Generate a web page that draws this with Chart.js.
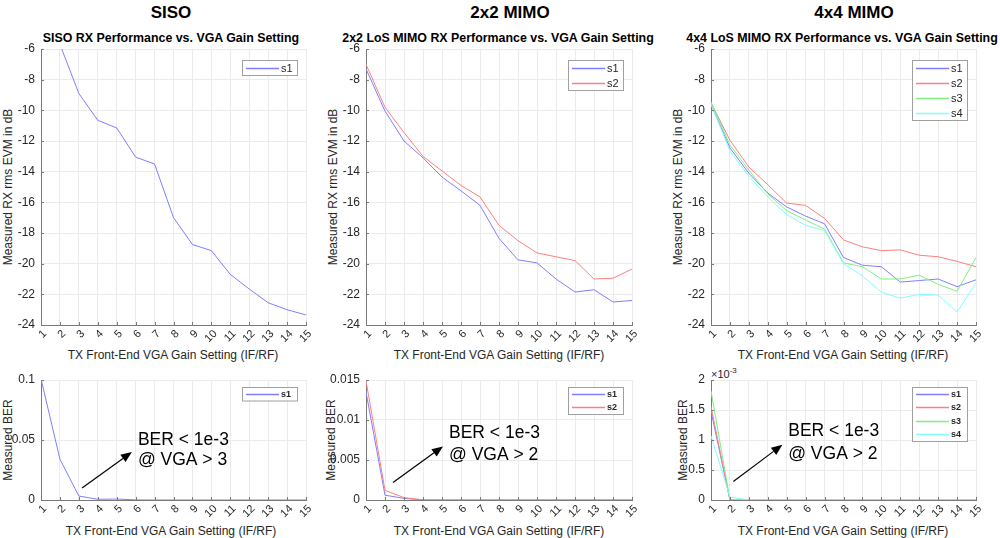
<!DOCTYPE html>
<html>
<head>
<meta charset="utf-8">
<script src="https://cdn.jsdelivr.net/npm/chart.js@4.4.0/dist/chart.umd.min.js"></script>
<style>
  body { margin: 0; background: #fff; font-family: "Liberation Sans", Arial, sans-serif; }
  #fig { position: relative; width: 1000px; height: 538px; overflow: hidden; }
  .box { position: absolute; }
  .t { position: absolute; white-space: nowrap; transform: translate(-50%, -50%); color: #000; }
  .sup { font-weight: bold; font-size: 17px; }
  .sub { font-weight: bold; font-size: 12.4px; }
  .xl { font-size: 12px; color: #262626; }
  .yl { font-size: 12px; color: #262626; transform: translate(-50%, -50%) rotate(-90deg); }
  .exp { position: absolute; font-size: 11px; color: #262626; white-space: nowrap; }
  .exp sup { font-size: 8px; }
</style>
</head>
<body>
<div id="fig">
  <div class="t sup" style="left:171px;top:13px">SISO</div>
  <div class="t sup" style="left:510px;top:13px">2x2 MIMO</div>
  <div class="t sup" style="left:854px;top:13px">4x4 MIMO</div>

  <div class="t sub" style="left:171px;top:38px">SISO RX Performance vs. VGA Gain Setting</div>
  <div class="t sub" style="left:498px;top:38px">2x2 LoS MIMO RX Performance vs. VGA Gain Setting</div>
  <div class="t sub" style="left:842px;top:38px">4x4 LoS MIMO RX Performance vs. VGA Gain Setting</div>

  <div class="t yl" style="left:8px;top:187px">Measured RX rms EVM in dB</div>
  <div class="t yl" style="left:333px;top:187px">Measured RX rms EVM in dB</div>
  <div class="t yl" style="left:678px;top:187px">Measured RX rms EVM in dB</div>
  <div class="t yl" style="left:8px;top:440px">Measured BER</div>
  <div class="t yl" style="left:331px;top:440px">Measured BER</div>
  <div class="t yl" style="left:683px;top:440px">Measured BER</div>

  <div class="t xl" style="left:173px;top:355px">TX Front-End VGA Gain Setting (IF/RF)</div>
  <div class="t xl" style="left:499px;top:355px">TX Front-End VGA Gain Setting (IF/RF)</div>
  <div class="t xl" style="left:843px;top:355px">TX Front-End VGA Gain Setting (IF/RF)</div>
  <div class="t xl" style="left:171px;top:531px">TX Front-End VGA Gain Setting (IF/RF)</div>
  <div class="t xl" style="left:499px;top:531px">TX Front-End VGA Gain Setting (IF/RF)</div>
  <div class="t xl" style="left:843px;top:531px">TX Front-End VGA Gain Setting (IF/RF)</div>

  <div class="exp" style="left:711px;top:366px">&times;10<sup>-3</sup></div>

  <div class="box" id="b1"><canvas id="c1"></canvas></div>
  <div class="box" id="b2"><canvas id="c2"></canvas></div>
  <div class="box" id="b3"><canvas id="c3"></canvas></div>
  <div class="box" id="b4"><canvas id="c4"></canvas></div>
  <div class="box" id="b5"><canvas id="c5"></canvas></div>
  <div class="box" id="b6"><canvas id="c6"></canvas></div>
</div>

<script>
// x axis: TX VGA gain setting
const vga = [1, 2, 3, 4, 5, 6, 7, 8, 9, 10, 11, 12, 13, 14, 15];

// RX rms EVM in dB
const sisoEvm   = [-2.5, -5.7, -8.9, -10.65, -11.15, -13.05, -13.5, -17.0, -18.75, -19.15, -20.7, -21.65, -22.55, -23.0, -23.35];
const mimo2EvmS1 = [-7.3, -10.05, -12.0, -13.1, -14.35, -15.25, -16.2, -18.35, -19.75, -19.95, -21.0, -21.85, -21.7, -22.5, -22.4];
const mimo2EvmS2 = [-7.0, -9.8, -11.45, -13.0, -13.95, -14.9, -15.65, -17.5, -18.5, -19.3, -19.55, -19.8, -21.0, -20.95, -20.35];
const mimo4EvmS1 = [-9.6, -12.45, -14.1, -15.4, -16.3, -16.9, -17.4, -19.6, -20.1, -20.2, -21.2, -21.1, -21.0, -21.5, -21.05];
const mimo4EvmS2 = [-9.5, -11.95, -13.7, -14.85, -16.05, -16.2, -17.05, -18.45, -18.9, -19.15, -19.1, -19.45, -19.55, -19.85, -20.2];
const mimo4EvmS3 = [-9.45, -12.25, -13.9, -15.45, -16.55, -17.15, -17.75, -19.95, -20.2, -21.0, -21.0, -20.75, -21.35, -21.8, -19.6];
const mimo4EvmS4 = [-9.6, -12.65, -14.3, -15.65, -16.8, -17.5, -17.85, -20.0, -20.8, -21.85, -22.25, -22.0, -22.05, -23.15, -21.25];

// measured BER
const sisoBer    = [0.101, 0.034, 0.0033, 0.0006, 0.0008, 0.0001, 0, 0, 0, 0, 0, 0, 0, 0, 0];
const mimo2BerS1 = [0.0135, 0.0006, 0.0002, 0, 0, 0, 0, 0, 0, 0, 0, 0, 0, 0, 0];
const mimo2BerS2 = [0.0149, 0.0012, 0.0003, 0.00003, 0, 0, 0, 0, 0, 0, 0, 0, 0, 0, 0];
const mimo4BerS1 = [0.00148, 0, 0, 0, 0, 0, 0, 0, 0, 0, 0, 0, 0, 0, 0];
const mimo4BerS2 = [0.00156, 0, 0, 0, 0, 0, 0, 0, 0, 0, 0, 0, 0, 0, 0];
const mimo4BerS3 = [0.00182, 0.00001, 0, 0, 0, 0, 0, 0, 0, 0, 0, 0, 0, 0, 0];
const mimo4BerS4 = [0.00107, 0.00005, 0, 0, 0, 0, 0, 0, 0, 0, 0, 0, 0, 0, 0];

const colors = ['#7f7fff', '#ff7f7f', '#7fef7f', '#7fffff'];
const axisGray = '#7a7a7a';
const FONT = '"Liberation Sans", Arial, sans-serif';

// small inward tick marks like matlab, plus the 45deg x tick labels
const sideTicks = {
  id: 'sideTicks',
  afterDraw(chart) {
    const { ctx, chartArea: a, scales: { x, y } } = chart;
    ctx.save();
    ctx.strokeStyle = axisGray;
    ctx.lineWidth = 1;
    ctx.beginPath();
    x.ticks.forEach(t => {
      const px = Math.round(x.getPixelForValue(t.value)) + 0.5;
      ctx.moveTo(px, a.bottom); ctx.lineTo(px, a.bottom - 3);
    });
    y.ticks.forEach(t => {
      const py = Math.round(y.getPixelForValue(t.value)) + 0.5;
      ctx.moveTo(a.left, py); ctx.lineTo(a.left + 3, py);
    });
    ctx.stroke();

    ctx.fillStyle = '#262626';
    ctx.font = '11px ' + FONT;
    ctx.textAlign = 'right';
    ctx.textBaseline = 'middle';
    x.ticks.forEach(t => {
      ctx.save();
      ctx.translate(x.getPixelForValue(t.value) + 4, a.bottom + 7);
      ctx.rotate(-Math.PI / 4);
      ctx.fillText(String(t.value), 0, 0);
      ctx.restore();
    });
    ctx.restore();
  }
};

// legend box inside the axes, top right
const boxLegend = {
  id: 'boxLegend',
  afterDraw(chart, args, opts) {
    const { ctx, chartArea: a } = chart;
    const sets = chart.data.datasets;
    const w = 55, h = opts.row * sets.length;
    const bx = Math.round(a.right - 9 - w), by = Math.round(a.top + opts.top);
    ctx.save();
    ctx.fillStyle = '#fff';
    ctx.fillRect(bx, by, w, h);
    ctx.strokeStyle = '#a0a0a0';
    ctx.lineWidth = 1;
    ctx.strokeRect(bx + 0.5, by + 0.5, w, h);
    ctx.font = opts.font;
    ctx.textBaseline = 'middle';
    sets.forEach((d, i) => {
      const cy = Math.round(by + opts.row * (i + 0.5)) + 0.5;
      ctx.strokeStyle = d.borderColor;
      ctx.lineWidth = 1.5;
      ctx.beginPath(); ctx.moveTo(bx + 4, cy); ctx.lineTo(bx + 37, cy); ctx.stroke();
      ctx.fillStyle = '#262626';
      ctx.fillText(d.label, bx + 39, cy + 0.5);
    });
    ctx.restore();
  }
};

// arrow + "BER < 1e-3" note
const berNote = {
  id: 'berNote',
  afterDraw(chart, args, o) {
    if (!o.lines) return;
    const { ctx, scales: { x, y } } = chart;
    const x1 = x.getPixelForValue(o.from[0]), y1 = y.getPixelForValue(o.from[1]);
    const x2 = x.getPixelForValue(o.to[0]), y2 = y.getPixelForValue(o.to[1]);
    const ang = Math.atan2(y2 - y1, x2 - x1);
    const hl = 11, hw = 4.5;
    const bx = x2 - hl * Math.cos(ang), by = y2 - hl * Math.sin(ang);
    ctx.save();
    ctx.strokeStyle = '#000';
    ctx.fillStyle = '#000';
    ctx.lineWidth = 1.2;
    ctx.beginPath(); ctx.moveTo(x1, y1); ctx.lineTo(bx, by); ctx.stroke();
    ctx.beginPath();
    ctx.moveTo(x2, y2);
    ctx.lineTo(bx - hw * Math.sin(ang), by + hw * Math.cos(ang));
    ctx.lineTo(bx + hw * Math.sin(ang), by - hw * Math.cos(ang));
    ctx.closePath(); ctx.fill();
    ctx.font = '17.5px ' + FONT;
    ctx.textBaseline = 'middle';
    const tx = x.getPixelForValue(o.textAt[0]);
    o.lines.forEach((s, i) => ctx.fillText(s, tx, y.getPixelForValue(o.textAt[i + 1])));
    ctx.restore();
  }
};

const YW = 40, PADT = 8, PADR = 10, XH = 30;

function plot(n, rect, series, yOpt, legend, note) {
  const [pl, pt, pr, pb] = rect;
  const b = document.getElementById('b' + n);
  b.style.left = (pl - YW) + 'px';
  b.style.top = (pt - PADT) + 'px';
  b.style.width = (pr - pl + YW + PADR) + 'px';
  b.style.height = (pb - pt + PADT + XH) + 'px';

  const datasets = series.map((vals, i) => ({
    label: 's' + (i + 1),
    data: vga.map((v, k) => ({ x: v, y: vals[k] })),
    borderColor: colors[i],
    backgroundColor: colors[i],
    borderWidth: 1,
    pointRadius: 0,
    tension: 0,
    order: -i
  }));

  new Chart(document.getElementById('c' + n), {
    type: 'line',
    data: { datasets },
    options: {
      responsive: true,
      maintainAspectRatio: false,
      animation: false,
      layout: { padding: { left: 0, top: PADT, right: PADR, bottom: 0 } },
      plugins: {
        legend: { display: false },
        tooltip: { enabled: false },
        boxLegend: legend,
        berNote: note || {}
      },
      scales: {
        x: {
          type: 'linear', min: 1, max: 15,
          afterFit(s) { s.height = XH; s.paddingLeft = 0; s.paddingRight = 0; },
          ticks: { stepSize: 1, autoSkip: false, display: false },
          grid: { color: '#ebebeb', drawTicks: false },
          border: { color: axisGray }
        },
        y: {
          min: yOpt.min, max: yOpt.max,
          afterFit(s) { s.width = YW; s.paddingTop = 0; s.paddingBottom = 0; },
          ticks: { stepSize: yOpt.step, padding: 6, color: '#262626', font: { family: FONT, size: 12 },
                   callback: yOpt.fmt || (v => String(+v.toFixed(4))) },
          grid: { color: '#ebebeb', drawTicks: false },
          border: { color: axisGray }
        }
      }
    },
    plugins: [sideTicks, boxLegend, berNote]
  });
}

const legTop = { top: 11, row: 15, font: '11px ' + FONT };
const legBot = { top: 7, row: 13.5, font: 'bold 9px ' + FONT };
const evmAxis = { min: -24, max: -6, step: 2 };

plot(1, [41, 49, 306, 325], [sisoEvm], evmAxis, legTop);
plot(2, [366, 49, 632, 325], [mimo2EvmS1, mimo2EvmS2], evmAxis, legTop);
plot(3, [711, 49, 976, 325], [mimo4EvmS1, mimo4EvmS2, mimo4EvmS3, mimo4EvmS4], evmAxis, legTop);

plot(4, [41, 380, 306, 500], [sisoBer], { min: 0, max: 0.1, step: 0.05 }, legBot,
  { from: [3.17, 0.010], to: [5.8, 0.040], textAt: [6.12, 0.05, 0.0333], lines: ['BER < 1e-3', '@ VGA > 3'] });
plot(5, [366, 380, 632, 500], [mimo2BerS1, mimo2BerS2], { min: 0, max: 0.015, step: 0.005 }, legBot,
  { from: [2.42, 0.0022], to: [5.05, 0.0067], textAt: [5.37, 0.0083, 0.0056], lines: ['BER < 1e-3', '@ VGA > 2'] });
plot(6, [711, 380, 976, 500], [mimo4BerS1, mimo4BerS2, mimo4BerS3, mimo4BerS4],
  { min: 0, max: 0.002, step: 0.0005, fmt: v => String(Math.round(v * 1e4) / 10) }, legBot,
  { from: [2.18, 0.00031], to: [4.77, 0.00092], textAt: [5.08, 0.00115, 0.00077], lines: ['BER < 1e-3', '@ VGA > 2'] });
</script>
</body>
</html>
